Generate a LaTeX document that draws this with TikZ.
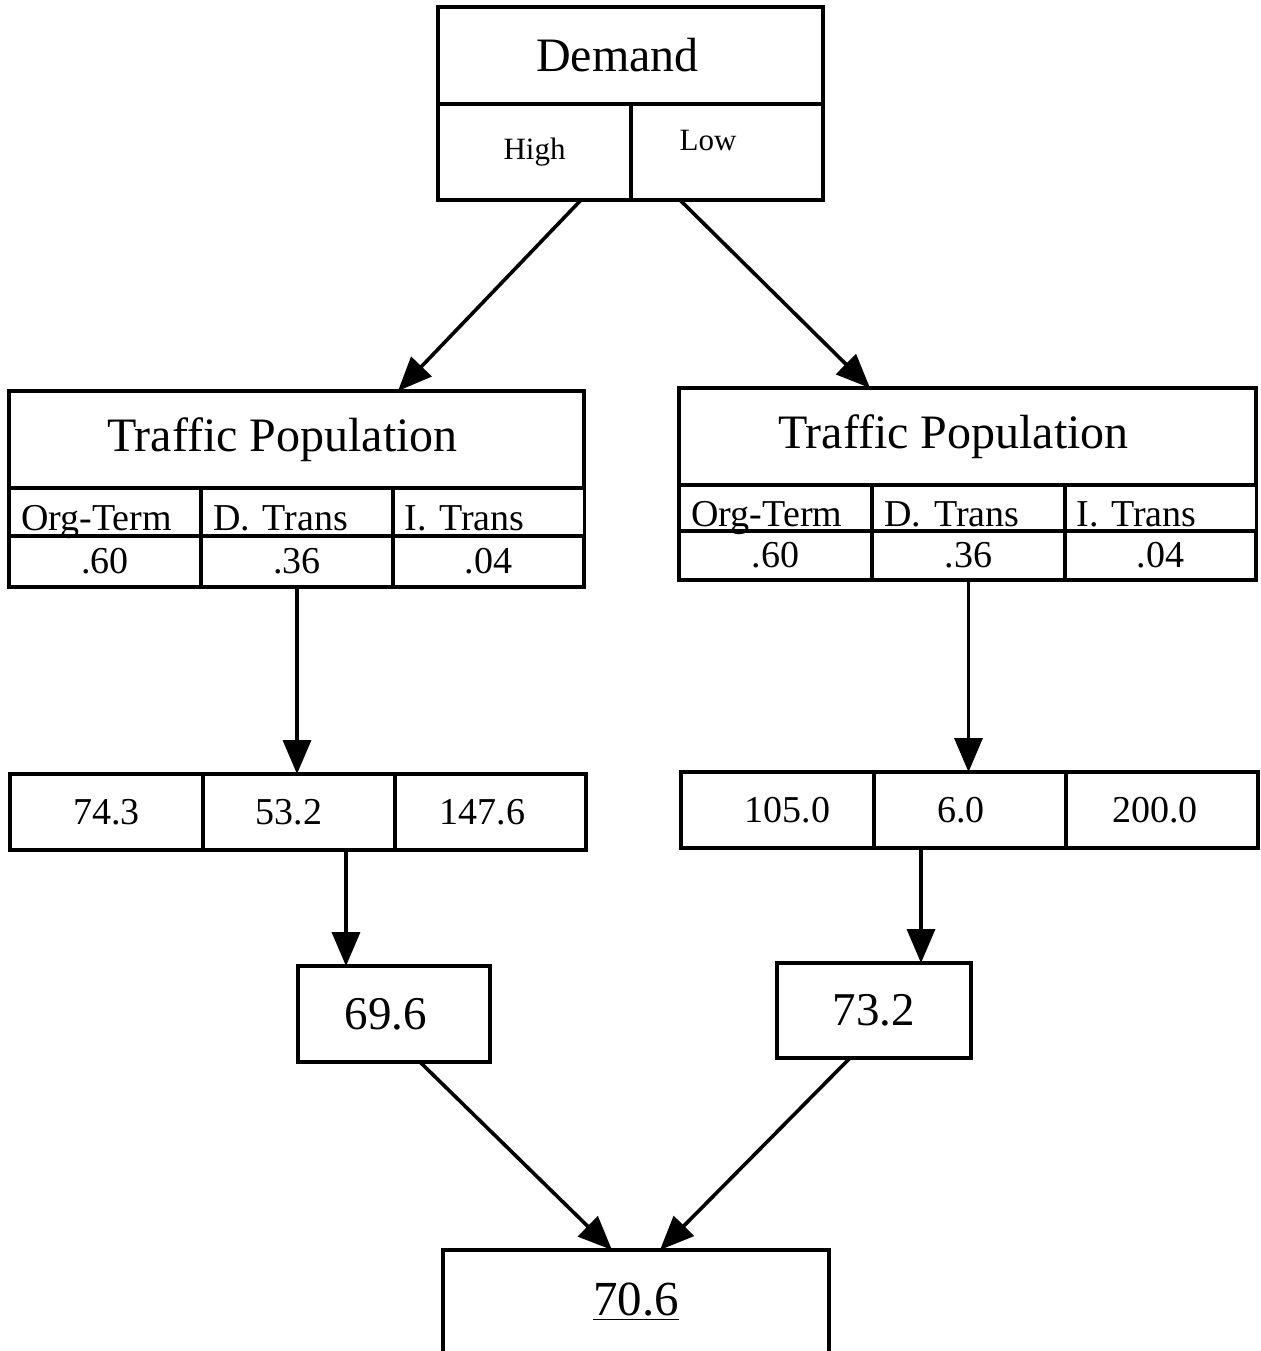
\documentclass[tikz,border=0pt]{standalone}
\usepackage{fontspec}
\setmainfont{Liberation Serif}
\usetikzlibrary{arrows.meta}

\begin{document}
\begin{tikzpicture}[x=0.5pt,y=-0.5pt,
    box/.style={draw=black,line width=1.6pt,inner sep=0pt,outer sep=0pt},
    big/.style={font=\fontsize{24}{28}\selectfont},
    mid/.style={font=\fontsize{19}{22}\selectfont},
    small/.style={font=\fontsize{15.5}{18}\selectfont,text height=11pt,text depth=3.5pt},
    head/.style={box,mid,text width=84pt,inner xsep=6pt,align=left,text height=19pt,text depth=1pt},
    arr/.style={line width=1.8pt,-{Triangle[length=17pt,width=14pt]}}
]
\useasboundingbox (0,0) rectangle (1260,1351);

% demand
\node[box,big,minimum width=192.5pt,minimum height=48.5pt] (demand) at (630.5,55.5) {Demand\hspace*{13pt}};
\node[box,small,minimum width=96.5pt,minimum height=48pt] (high) at (534.5,152) {High};
\node[box,small,minimum width=96pt,minimum height=48pt] (low) at (727,152) {\raisebox{4.5pt}{Low}\kern19pt};

% traffic population, high
\node[box,big,minimum width=287.5pt,minimum height=48.5pt] (ltitle) at (296.5,439.5) {Traffic Population\hspace*{14pt}};
\node[head,minimum width=96pt,minimum height=24pt] (lh1) at (105,512) {Org-Term};
\node[head,minimum width=96pt,minimum height=24pt] (lh2) at (297,512) {D. Trans};
\node[head,minimum width=95.5pt,minimum height=24pt] (lh3) at (488.5,512) {I. Trans};
\node[box,mid,minimum width=96pt,minimum height=25.5pt] (lp1) at (105,561.5) {.60};
\node[box,mid,minimum width=96pt,minimum height=25.5pt] (lp2) at (297,561.5) {.36};
\node[box,mid,minimum width=95.5pt,minimum height=25.5pt] (lp3) at (488.5,561.5) {.04};

% traffic population, low
\node[box,big,minimum width=288.5pt,minimum height=48.5pt] (rtitle) at (967.5,436.5) {Traffic Population\hspace*{14pt}};
\node[head,minimum width=96.5pt,minimum height=23pt] (rh1) at (775.5,508) {Org-Term};
\node[head,minimum width=96.5pt,minimum height=23pt] (rh2) at (968.5,508) {D. Trans};
\node[head,minimum width=95.5pt,minimum height=23pt] (rh3) at (1160.5,508) {I. Trans};
\node[box,mid,minimum width=96.5pt,minimum height=24.5pt] (rp1) at (775.5,555.5) {.60};
\node[box,mid,minimum width=96.5pt,minimum height=24.5pt] (rp2) at (968.5,555.5) {.36};
\node[box,mid,minimum width=95.5pt,minimum height=24.5pt] (rp3) at (1160.5,555.5) {.04};

% values
\node[box,mid,minimum width=96.5pt,minimum height=38pt] (lv1) at (106.5,812) {74.3};
\node[box,mid,minimum width=96pt,minimum height=38pt] (lv2) at (299,812) {53.2\kern10pt};
\node[box,mid,minimum width=95.5pt,minimum height=38pt] (lv3) at (490.5,812) {147.6\kern8pt};
\node[box,mid,minimum width=96.5pt,minimum height=38pt] (rv1) at (777.5,810) {\kern10pt 105.0};
\node[box,mid,minimum width=96pt,minimum height=38pt] (rv2) at (970,810) {6.0\kern9pt};
\node[box,mid,minimum width=96pt,minimum height=38pt] (rv3) at (1162,810) {200.0\kern7pt};

% results
\node[box,font=\fontsize{23.5}{27}\selectfont,minimum width=96pt,minimum height=48pt] (lres) at (394,1014) {69.6\kern8pt};
\node[box,font=\fontsize{23.5}{27}\selectfont,minimum width=97pt,minimum height=47.5pt] (rres) at (874,1010.5) {73.2};
\node[box,font=\fontsize{24.5}{28}\selectfont,minimum width=193pt,minimum height=52pt] (total) at (636,1302) {\underline{70.6}};

% arrows
\draw[arr] ([xshift=23.25pt]high.south) -- ([xshift=50.75pt]ltitle.north);
\draw[arr] ([xshift=-23.5pt]low.south) -- ([xshift=-48.75pt]rtitle.north);
\draw[arr] (lp2.south) -- (lp2.south |- lv2.north);
\draw[arr] (rp2.south) -- (rp2.south |- rv2.north);
\coordinate (la) at ([xshift=23.5pt]lv2.south);
\coordinate (ra) at ([xshift=-24.5pt]rv2.south);
\draw[arr] (la) -- (la |- lres.north);
\draw[arr] (ra) -- (ra |- rres.north);
\draw[arr] ([xshift=13pt]lres.south) -- ([xshift=-12pt]total.north);
\draw[arr] ([xshift=-12pt]rres.south) -- ([xshift=12pt]total.north);
\end{tikzpicture}
\end{document}
